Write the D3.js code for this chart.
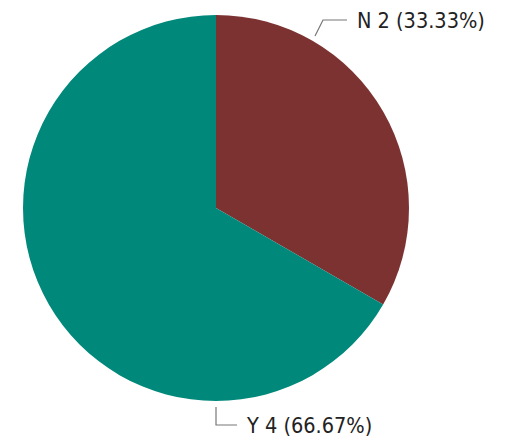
<!DOCTYPE html>
<html>
<head>
<meta charset="utf-8">
<script src="https://cdn.jsdelivr.net/npm/d3@7"></script>
<style>
  html, body { margin: 0; padding: 0; background: #fff; }
  svg { display: block; }
  .lbl { font-family: "Liberation Sans Narrow", "DejaVu Sans Condensed", Roboto, sans-serif; font-size: 21.5px; fill: #222; }
</style>
</head>
<body>
<svg id="chart" width="508" height="437"></svg>
<script>
// Answer counts
const categories = ["N", "Y"];
const counts = [2, 4];
const colors = ["#7d3232", "#00897b"];

const width = 508, height = 437;
const cx = 216, cy = 208, radius = 193;

const svg = d3.select("#chart");
const g = svg.append("g").attr("transform", `translate(${cx},${cy})`);

const data = categories.map((c, i) => ({ cat: c, value: counts[i], color: colors[i] }));
const total = d3.sum(counts);

const pie = d3.pie().value(d => d.value).sort(null);
const arc = d3.arc().innerRadius(0).outerRadius(radius);
const arcs = pie(data);

g.selectAll("path.slice")
  .data(arcs)
  .enter().append("path")
  .attr("class", "slice")
  .attr("d", arc)
  .attr("fill", d => d.data.color);

// Leader lines (offsets from the pie centre) and labels
const fmt = v => (v * 100).toFixed(2) + "%";
const leaders = [
  [[99, -172], [107, -188], [131, -188]],
  [[0, 199], [0, 217], [21, 217]]
];

arcs.forEach((a, i) => {
  const pts = leaders[i];
  const end = pts[pts.length - 1];
  g.append("polyline")
    .attr("points", pts.map(p => p.join(",")).join(" "))
    .attr("fill", "none")
    .attr("stroke", "#777")
    .attr("stroke-width", 1.2);
  g.append("text")
    .attr("class", "lbl")
    .attr("x", end[0] + 10)
    .attr("y", end[1])
    .attr("dy", "0.35em")
    .text(`${a.data.cat} ${a.data.value} (${fmt(a.data.value / total)})`);
});
</script>
</body>
</html>
